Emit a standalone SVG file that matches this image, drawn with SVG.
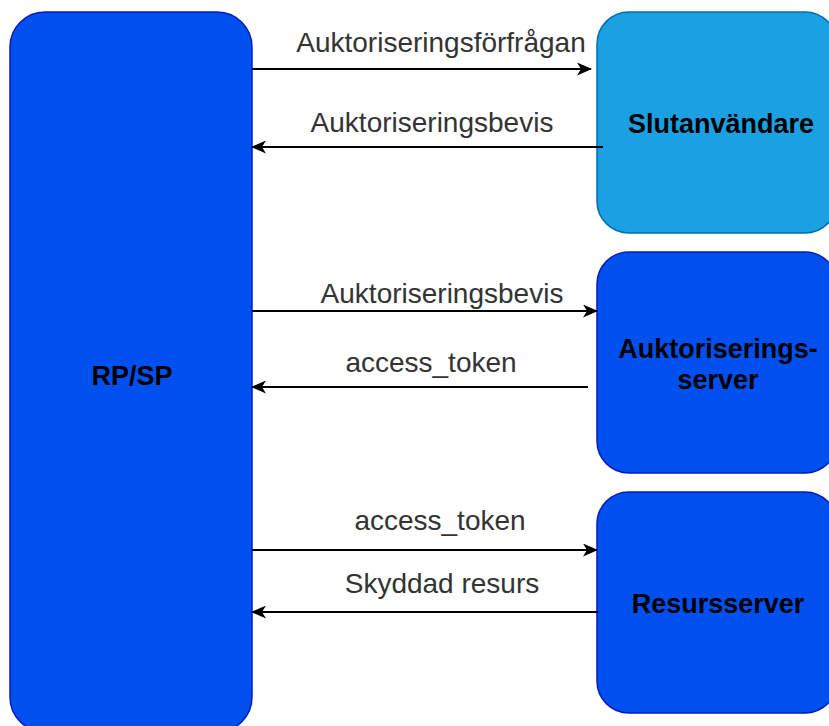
<svg xmlns="http://www.w3.org/2000/svg" width="829" height="726" viewBox="0 0 829 726">
  <style>
    .node { fill: #0050EF; stroke: #001DBC; stroke-width: 1.5; }
    .node.light { fill: #1BA1E2; stroke: #006EAF; }
    .title { font-family: "Liberation Sans", Arial, sans-serif; font-size: 27px; font-weight: bold; fill: #000; text-anchor: middle; }
    .edge { stroke: #000; stroke-width: 2; fill: none; marker-end: url(#arrow); }
    .label { font-family: "Liberation Sans", Arial, sans-serif; font-size: 28px; fill: #333; text-anchor: middle; }
  </style>
  <defs>
    <marker id="arrow" viewBox="0 0 15 13" refX="14" refY="6.5" markerWidth="15" markerHeight="13" markerUnits="userSpaceOnUse" orient="auto">
      <path d="M0,0 L15,6.5 L0,13 L4,6.5 Z" fill="#000"/>
    </marker>
  </defs>
  <rect width="829" height="726" fill="#fff"/>

  <g id="rp-sp">
    <rect class="node" x="10" y="12" width="242" height="720" rx="35" ry="35"/>
    <text class="title" x="132" y="385">RP/SP</text>
  </g>

  <g id="slutanvandare">
    <rect class="node light" x="597" y="12" width="240" height="221" rx="32" ry="32"/>
    <text class="title" x="721" y="133">Slutanvändare</text>
  </g>

  <g id="auktoriseringsserver">
    <rect class="node" x="597" y="252" width="240" height="221" rx="32" ry="32"/>
    <text class="title" x="718" y="358">Auktoriserings-</text>
    <text class="title" x="718" y="389">server</text>
  </g>

  <g id="resursserver">
    <rect class="node" x="597" y="492" width="240" height="221" rx="32" ry="32"/>
    <text class="title" x="718" y="613">Resursserver</text>
  </g>

  <g id="connectors">
    <line class="edge" x1="252" y1="69" x2="591" y2="69"/>
    <text class="label" x="441" y="52">Auktoriseringsförfrågan</text>

    <line class="edge" x1="603" y1="147" x2="252" y2="147"/>
    <text class="label" x="432" y="132">Auktoriseringsbevis</text>

    <line class="edge" x1="252" y1="311" x2="597" y2="311"/>
    <text class="label" x="442" y="303">Auktoriseringsbevis</text>

    <line class="edge" x1="588" y1="387" x2="252" y2="387"/>
    <text class="label" x="431" y="372">access_token</text>

    <line class="edge" x1="252" y1="550" x2="597" y2="550"/>
    <text class="label" x="440" y="530">access_token</text>

    <line class="edge" x1="598" y1="612" x2="252" y2="612"/>
    <text class="label" x="442" y="593">Skyddad resurs</text>
  </g>
</svg>
